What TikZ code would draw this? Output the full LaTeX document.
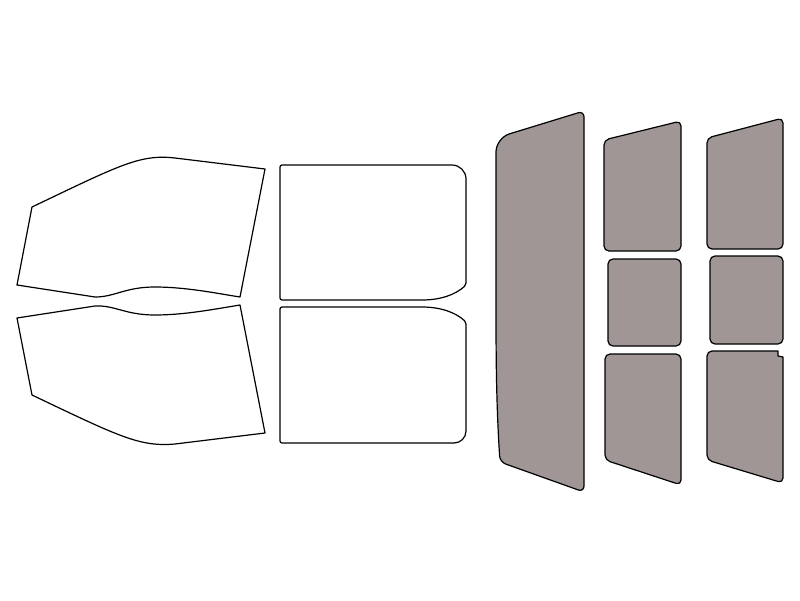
\documentclass[tikz,border=0pt]{standalone}
\begin{document}
\begin{tikzpicture}[x=1pt,y=-1pt,line width=1.2pt,line join=round,
  clear/.style={draw=black,fill=white},
  tint/.style={draw=black,fill={rgb,255:red,160;green,150;blue,149},rounded corners=5pt}]
\useasboundingbox (0,0) rectangle (800,600);
% left door windows
\draw[clear] (32,207) -- (17,285) -- (95,297) .. controls (115,297) and (125,287) .. (155,287) .. controls (185,287) and (215,293) .. (240,297) -- (265,169) -- (175,158) .. controls (140,154) and (120,165) .. (32,207) -- cycle;
\draw[clear] (17,318) -- (95,306) .. controls (115,305) and (125,315) .. (155,315) .. controls (185,315) and (215,309) .. (240,305) -- (265,433) -- (175,444) .. controls (140,447) and (120,437) .. (32,395) -- cycle;
% middle windows
\draw[clear,rounded corners=2pt] (280,230) -- (280,300) -- (420,300) .. controls (440,300) and (455,295) .. (466,285) -- (466,185) [rounded corners=14pt] -- (466,165) [rounded corners=2pt] -- (280,165) -- (280,230);
\draw[clear,rounded corners=2pt] (280,380) -- (280,307) -- (420,307) .. controls (440,307) and (455,312) .. (466,322) -- (466,423) [rounded corners=12pt] -- (466,443) [rounded corners=2pt] -- (280,443) -- (280,380);
% big rear
\draw[tint,rounded corners=8pt] (496,300) .. controls (496,250) and (496,200) .. (496,160) [rounded corners=14pt] -- (496,138) [rounded corners=6pt] -- (584,111) -- (584,492) -- (500,462) .. controls (496,400) and (496,350) .. (496,300);
% col1
\draw[tint] (604,200) -- (604,140) -- (681,121) -- (681,251) -- (604,251) -- (604,200);
\draw[tint] (608,259) rectangle (681,346);
\draw[tint] (605,400) -- (605,354) -- (681,354) -- (681,485) -- (605,460) -- (605,400);
% col2
\draw[tint] (707,200) -- (707,138) -- (783,118) -- (783,249) -- (707,249) -- (707,200);
\draw[tint] (710,256) rectangle (783,344);
\draw[tint] (707,400) -- (707,351) [sharp corners] -- (778,351) -- (778,356) -- (783,357) [rounded corners=5pt] -- (783,483) -- (707,460) -- (707,400);
\end{tikzpicture}
\end{document}
